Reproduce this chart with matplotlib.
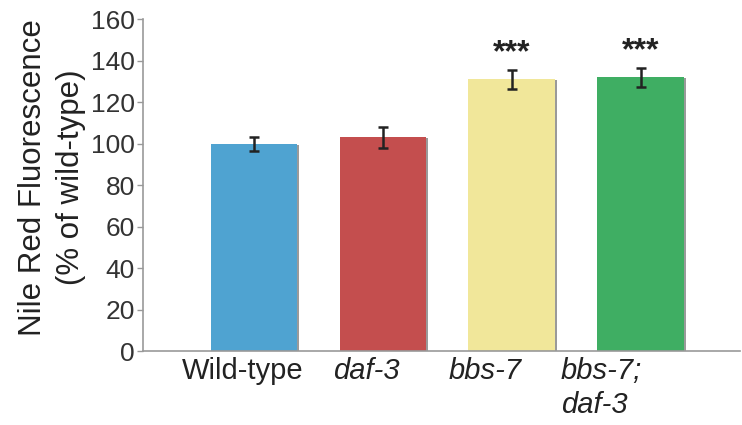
import matplotlib
matplotlib.use("Agg")
import matplotlib.pyplot as plt
import matplotlib.transforms as mtransforms

categories = ["Wild-type", "daf-3", "bbs-7", "bbs-7;\ndaf-3"]
italic = [False, True, True, True]
values = [100.0, 103.0, 131.0, 132.0]
errors = [3.4, 5.0, 4.6, 4.6]
colors = ["#4fa3d1", "#c44e4e", "#f1e79a", "#3fae63"]
stars = ["", "", "***", "***"]
yticks = [0, 20, 40, 60, 80, 100, 120, 140, 160]
label_shift_px = [-11, -16, -26, -39]

plt.rcParams['font.family'] = ['Liberation Sans', 'DejaVu Sans']

fig = plt.figure(figsize=(7.42, 4.25), dpi=100)
ax = fig.add_axes([0.1927, 0.174, 0.8043, 0.781])

x = list(range(len(categories)))
width = 0.67

# shadow bars
shadow = mtransforms.offset_copy(ax.transData, fig=fig, x=2.0, y=-1.0, units='dots')
ax.bar(x, values, width=width, color="#9a9a9a", transform=shadow, zorder=1)
ax.bar(x, values, width=width, color=colors, zorder=2)
ax.errorbar(x, values, yerr=errors, fmt='none', ecolor="#222222",
            elinewidth=1.8, capsize=3.5, capthick=1.8, zorder=3)
for xi, v, e, s in zip(x, values, errors, stars):
    if s:
        ax.text(xi, v + e + 0.5, s, ha='center', va='bottom', fontsize=23,
                color="#222222", fontweight='bold')

ax.set_xlim(-0.86, 3.77)
ax.set_ylim(0, 160)
ax.set_yticks(yticks)
ax.set_yticklabels([str(t) for t in yticks], fontsize=19, color="#333333")
ax.set_xticks(x)
ax.set_xticklabels([])
ax.tick_params(axis='x', length=0)
ax.tick_params(axis='y', length=4, width=1, color="#999999", pad=2)

blend = mtransforms.blended_transform_factory(ax.transData, ax.transAxes)
for xi, cat, it, dx in zip(x, categories, italic, label_shift_px):
    tr = blend + mtransforms.ScaledTranslation(dx / 100.0, -6 / 100.0, fig.dpi_scale_trans)
    ax.text(xi, 0, cat, transform=tr, ha='center', va='top', multialignment='left',
            fontsize=21, color="#222222", linespacing=1.25,
            style='italic' if it else 'normal')

for sp in ['top', 'right']:
    ax.spines[sp].set_visible(False)
for sp in ['left', 'bottom']:
    ax.spines[sp].set_color("#999999")
    ax.spines[sp].set_linewidth(1.2)

ax.set_ylabel("Nile Red Fluorescence\n(% of wild-type)", fontsize=22.5,
              color="#222222", linespacing=1.35, labelpad=3)
ax.yaxis.label.set_y(0.523)

fig.savefig("out.png", dpi=100, facecolor="white")
